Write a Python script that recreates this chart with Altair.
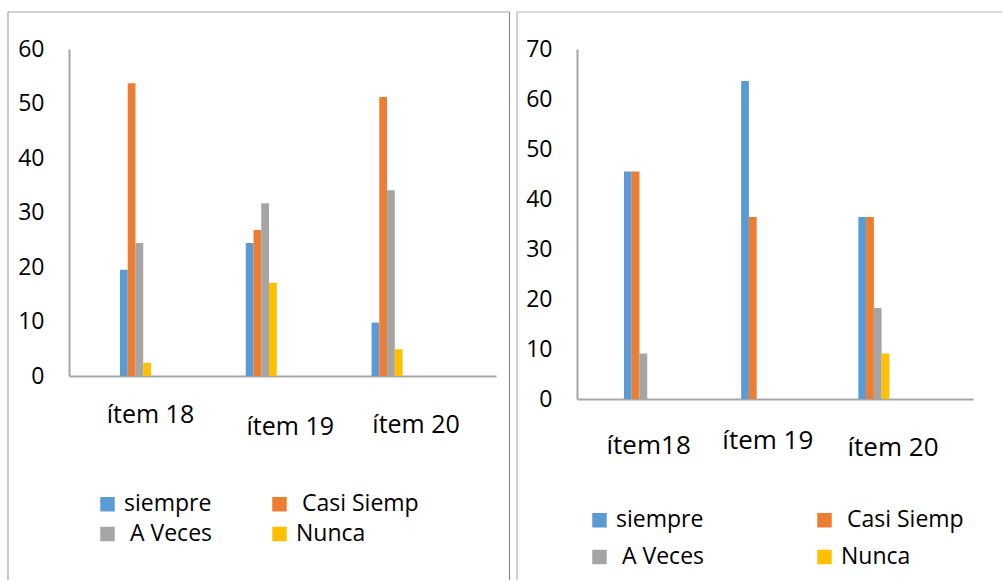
import altair as alt
import pandas as pd

# Response categories and their Excel-style colours
series = ["siempre", "Casi Siemp", "A Veces", "Nunca"]
colors = ["#5B9BD5", "#ED7D31", "#A5A5A5", "#FFC000"]

# Left chart (percentages)
items_a = ["ítem 18", "ítem 19", "ítem 20"]
siempre_a = [19.5, 24.4, 9.8]
casi_a = [53.7, 26.8, 51.2]
aveces_a = [24.4, 31.7, 34.1]
nunca_a = [2.4, 17.1, 4.9]

# Right chart (percentages)
items_b = ["ítem18", "ítem 19", "ítem 20"]
siempre_b = [45.5, 63.6, 36.4]
casi_b = [45.5, 36.4, 36.4]
aveces_b = [9.1, 0.0, 18.2]
nunca_b = [0.0, 0.0, 9.1]

FONT = "Open Sans"

# a leading space survives text trimming when a zero-width char comes first
LEAD = "\u200b\u00a0"


def long_table(items, cols):
    rows = []
    for s, vals in zip(series, cols):
        for it, v in zip(items, vals):
            rows.append({"item": it, "serie": s, "valor": v})
    return pd.DataFrame(rows)


def per_label(items, vals):
    conds = [{"test": f"datum.value === '{it}'", "value": v}
             for it, v in zip(items[:-1], vals[:-1])]
    return {"condition": conds, "value": vals[-1]}


def panel(items, cols, ymax, w, h, band, xlab, legend_pos, frame):
    df = long_table(items, cols)
    pin, pout, align = band
    x_font, x_off, x_pad = xlab
    lx, ly, col_pad, row_pad = legend_pos

    bars = alt.Chart(df).mark_bar().encode(
        x=alt.X(
            "item:N", sort=items, title=None,
            scale=alt.Scale(paddingInner=pin, paddingOuter=pout, align=align),
            axis=alt.Axis(
                ticks=False, tickSize=0, grid=False,
                labelFont=FONT, labelFontSize=x_font, labelColor="#000000",
                labelAngle=0, labelBaseline="top",
                labelOffset=per_label(items, x_off),
                labelPadding=per_label(items, x_pad),
                domainColor="#a6a6a6", domainWidth=2,
            ),
        ),
        xOffset=alt.XOffset(
            "serie:N", sort=series,
            scale=alt.Scale(paddingInner=0, paddingOuter=0),
        ),
        y=alt.Y(
            "valor:Q", title=None,
            scale=alt.Scale(domain=[0, ymax], nice=False),
            axis=alt.Axis(
                values=list(range(0, ymax + 1, 10)),
                ticks=False, tickSize=0, grid=False,
                labelFont=FONT, labelFontSize=23, labelColor="#000000",
                labelPadding=25,
                domainColor="#a6a6a6", domainWidth=2,
            ),
        ),
        color=alt.Color(
            "serie:N", sort=series,
            scale=alt.Scale(domain=series, range=colors),
            legend=alt.Legend(
                title=None, orient="none", legendX=lx, legendY=ly,
                direction="horizontal",
                columns=2, columnPadding=col_pad, rowPadding=row_pad,
                symbolType="square", symbolSize=210, symbolStrokeWidth=0,
                symbolOpacity=1, labelOffset=5,
                labelFont=FONT, labelFontSize=23, labelColor="#000000",
                labelExpr="datum.label == 'Casi Siemp' || datum.label == 'A Veces'"
                          f" ? '{LEAD}' + datum.label : datum.label",
            ),
        ),
    )

    one = pd.DataFrame({"k": [0]})
    layers = [bars]
    for (x1, x2, y1, y2, col) in frame:
        layers.append(
            alt.Chart(one).mark_rule(color=col, strokeWidth=1.2).encode(
                x=alt.value(x1), x2=alt.value(x2),
                y=alt.value(y1), y2=alt.value(y2),
            )
        )
    return alt.layer(*layers).properties(width=w, height=h)


# frame edges (relative to each plot area's origin)
left_frame = [
    (-61, 440.5, -37, -37, "#a6a6a6"),
    (-61, -61, -37, 531, "#a6a6a6"),
    (440.5, 440.5, -37, 531, "#8c8c8c"),
]
right_frame = [
    (-60, 425, -37, -37, "#b4b4b4"),
    (-60, -60, -37, 531, "#b4b4b4"),
]

left = panel(
    items_a, [siempre_a, casi_a, aveces_a, nunca_a], 60, 427, 327,
    (0.7536, 0.574, 0.353),
    (25, [15, 29, 29], [26, 38, 36]),
    (27, 443.5, 55, 6),
    left_frame,
)

# transparent sheet fixing the overall canvas to the window size
sheet = alt.Chart(pd.DataFrame({"k": [0]})).mark_rect(opacity=0).encode(
    x=alt.value(-69), x2=alt.value(934), y=alt.value(-49), y2=alt.value(532)
)
left = alt.layer(left, sheet)

right = panel(
    items_b, [siempre_b, casi_b, aveces_b, nunca_b], 70, 396, 350,
    (0.75, 0.5645, 0.355),
    (26, [10, 12, 20], [33, 28, 35]),
    (11, 459.5, 108, 13),
    right_frame,
)

chart = alt.hconcat(
    left, right, spacing=81, bounds="flush", padding=0,
    autosize=alt.AutoSizeParams(type="pad"), background="#ffffff",
).resolve_scale(color="independent").resolve_legend(
    color="independent"
).configure_view(stroke=None, strokeWidth=0)

chart.save("out.html", embed_options={"renderer": "svg", "actions": False})
